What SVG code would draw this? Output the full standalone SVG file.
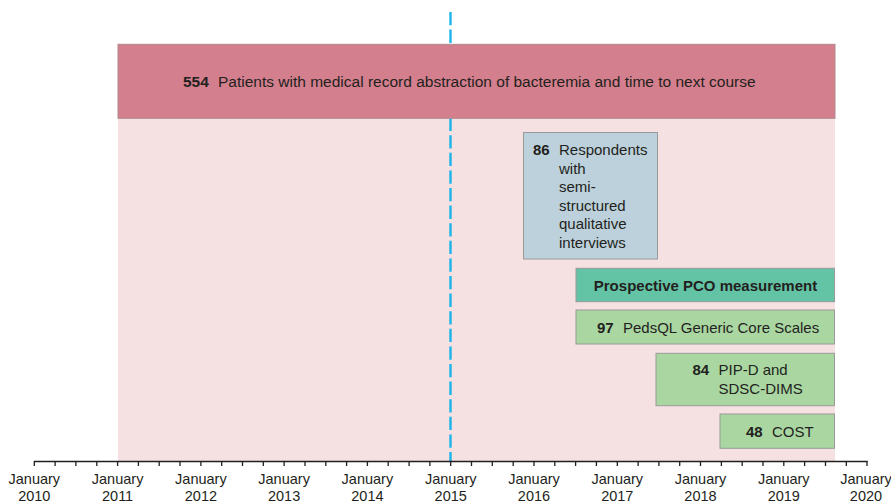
<svg xmlns="http://www.w3.org/2000/svg" width="891" height="503" viewBox="0 0 891 503">
<defs>
<style>
text{font-family:"Liberation Sans",Arial,sans-serif;fill:#231F20;font-size:15px}
.b{font-weight:bold}
.hd{font-size:15.5px}
.ax{font-size:14.5px;text-anchor:middle}
.box{stroke:#9a9a9a;stroke-width:1}
.tick{stroke:#231F20;stroke-width:1.3}
</style>
</defs>
<rect id="bg" x="118" y="44" width="717" height="417" fill="#F5E1E2"/>
<line id="cutoff" x1="450.5" y1="12" x2="450.5" y2="461" stroke="#1DB4EA" stroke-width="2.4" stroke-dasharray="13.3 4.3"/>
<g id="header">
<rect x="118" y="44.3" width="717" height="74" fill="#D47F8D" stroke="#B08A90" stroke-width="1"/>
<text class="hd" y="87"><tspan class="b" x="183">554</tspan><tspan x="218">Patients with medical record abstraction of bacteremia and time to next course</tspan></text>
</g>
<g id="interviews">
<rect class="box" x="523.5" y="132.5" width="134" height="126.5" fill="#BCD1DB"/>
<text class="b" x="533" y="155">86</text>
<text x="559"><tspan x="559" y="155">Respondents</tspan><tspan x="559" y="173.6">with</tspan><tspan x="559" y="192.2">semi-</tspan><tspan x="559" y="210.8">structured</tspan><tspan x="559" y="229.4">qualitative</tspan><tspan x="559" y="248">interviews</tspan></text>
</g>
<g id="pco">
<rect class="box" x="576" y="268.3" width="258.5" height="33.4" fill="#63C3A5"/>
<text class="b" x="705.5" y="290.5" text-anchor="middle">Prospective PCO measurement</text>
</g>
<g id="pedsql">
<rect class="box" x="576" y="310" width="258.5" height="34" fill="#A9D6A1"/>
<text y="332.7"><tspan class="b" x="597">97</tspan><tspan x="623">PedsQL Generic Core Scales</tspan></text>
</g>
<g id="pipd">
<rect class="box" x="656" y="353.3" width="178.5" height="52.4" fill="#A9D6A1"/>
<text class="b" x="692.5" y="375">84</text>
<text><tspan x="718.5" y="375">PIP-D and</tspan><tspan x="718.5" y="394">SDSC-DIMS</tspan></text>
</g>
<g id="cost">
<rect class="box" x="720" y="414" width="114.5" height="34.3" fill="#A9D6A1"/>
<text y="436.7"><tspan class="b" x="746">48</tspan><tspan x="772">COST</tspan></text>
</g>
<g id="axis">
<line class="tick" x1="34" y1="461.5" x2="867.5" y2="461.5" stroke-width="1.5"/>
<path class="tick" fill="none" d="M34.3 461v5M55.1 461v5M75.9 461v5M96.8 461v5M117.6 461v5M138.4 461v5M159.2 461v5M180 461v5M200.9 461v5M221.7 461v5M242.5 461v5M263.3 461v5M284.1 461v5M305 461v5M325.8 461v5M346.6 461v5M367.4 461v5M388.2 461v5M409.1 461v5M429.9 461v5M450.7 461v5M471.5 461v5M492.3 461v5M513.2 461v5M534 461v5M554.8 461v5M575.6 461v5M596.4 461v5M617.3 461v5M638.1 461v5M658.9 461v5M679.7 461v5M700.5 461v5M721.4 461v5M742.2 461v5M763 461v5M783.8 461v5M804.6 461v5M825.5 461v5M846.3 461v5M867 461v5"/>
<text class="ax" x="34.3" y="484">January</text><text class="ax" x="34.3" y="501">2010</text>
<text class="ax" x="117.6" y="484">January</text><text class="ax" x="117.6" y="501">2011</text>
<text class="ax" x="200.9" y="484">January</text><text class="ax" x="200.9" y="501">2012</text>
<text class="ax" x="284.1" y="484">January</text><text class="ax" x="284.1" y="501">2013</text>
<text class="ax" x="367.4" y="484">January</text><text class="ax" x="367.4" y="501">2014</text>
<text class="ax" x="450.7" y="484">January</text><text class="ax" x="450.7" y="501">2015</text>
<text class="ax" x="534" y="484">January</text><text class="ax" x="534" y="501">2016</text>
<text class="ax" x="617.3" y="484">January</text><text class="ax" x="617.3" y="501">2017</text>
<text class="ax" x="700.5" y="484">January</text><text class="ax" x="700.5" y="501">2018</text>
<text class="ax" x="783.8" y="484">January</text><text class="ax" x="783.8" y="501">2019</text>
<text class="ax" x="866" y="484">January</text><text class="ax" x="866" y="501">2020</text>
</g>
</svg>
